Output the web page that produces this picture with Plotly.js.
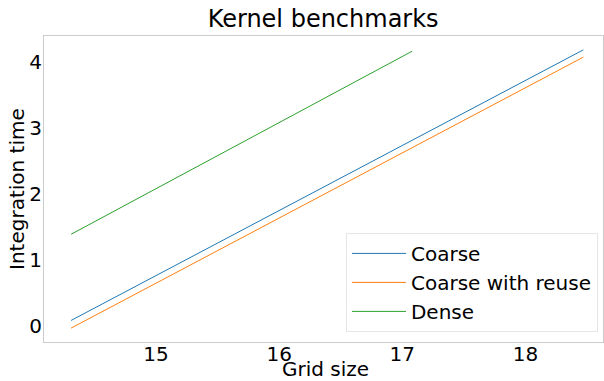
<!DOCTYPE html>
<html>
<head>
<meta charset="utf-8">
<script src="https://cdn.plot.ly/plotly-3.0.1.min.js"></script>
<style>html,body{margin:0;padding:0;background:#fff}#chart{width:604px;height:381px}</style>
</head>
<body>
<div id="chart"></div>
<script>
const seriesNames = ["Coarse", "Coarse with reuse", "Dense"];
const coarseX = [14.31, 18.47];
const coarseY = [0.086, 4.18];
const reuseX = [14.31, 18.47];
const reuseY = [-0.03, 4.07];
const denseX = [14.31, 17.08];
const denseY = [1.39, 4.16];
const colors = ["#1f77b4", "#ff7f0e", "#2ca02c"];
const xTitle = "Grid size";
const yTitle = "Integration time";

const xs = [coarseX, reuseX, denseX];
const ys = [coarseY, reuseY, denseY];
const traces = seriesNames.map((n, i) => ({
  x: xs[i], y: ys[i], name: n, type: "scatter", mode: "lines",
  line: {color: colors[i], width: 1}
}));

const font = {family: "DejaVu Sans, sans-serif", color: "#000"};
const W = 604, H = 381, ml = 44, mr = 1, mt = 36, mb = 39;
const pw = W - ml - mr, ph = H - mt - mb;
const layout = {
  width: W, height: H,
  margin: {l: ml, r: mr, t: mt, b: mb},
  paper_bgcolor: "#fff", plot_bgcolor: "#fff",
  font: Object.assign({size: 20}, font),
  title: {text: "Kernel benchmarks", font: Object.assign({size: 24}, font), x: 0.535, xanchor: "center", y: 0.95, yanchor: "middle"},
  xaxis: {
    range: [14.09, 18.63], tickvals: [15, 16, 17, 18], showgrid: false, zeroline: false,
    showline: true, mirror: true, linecolor: "#cccccc", linewidth: 1, ticks: "",
    ticklabelstandoff: -6,
    tickfont: Object.assign({size: 20}, font)
  },
  yaxis: {
    range: [-0.24, 4.39], tickvals: [0, 1, 2, 3, 4], showgrid: false, zeroline: false,
    showline: true, mirror: true, linecolor: "#cccccc", linewidth: 1, ticks: "",
    ticklabelstandoff: -3,
    tickfont: Object.assign({size: 20}, font)
  },
  annotations: [
    {text: xTitle, xref: "paper", yref: "paper", x: (325 - ml) / pw, y: -(369 - mt - ph) / ph,
     xanchor: "center", yanchor: "middle", showarrow: false, borderpad: 0, font: Object.assign({size: 20}, font)},
    {text: yTitle, xref: "paper", yref: "paper", x: (17 - ml) / pw, y: (H - mb - 189) / ph,
     xanchor: "center", yanchor: "middle", textangle: -90, showarrow: false, font: Object.assign({size: 20}, font)}
  ],
  showlegend: true,
  legend: {
    x: 0.991, xanchor: "right", y: 0.033, yanchor: "bottom",
    bgcolor: "#fff", bordercolor: "#e6e6e6", borderwidth: 1, itemwidth: 54,
    font: Object.assign({size: 20}, font), tracegroupgap: 0
  }
};
Plotly.newPlot("chart", traces, layout, {displayModeBar: false, staticPlot: true});
</script>
</body>
</html>
